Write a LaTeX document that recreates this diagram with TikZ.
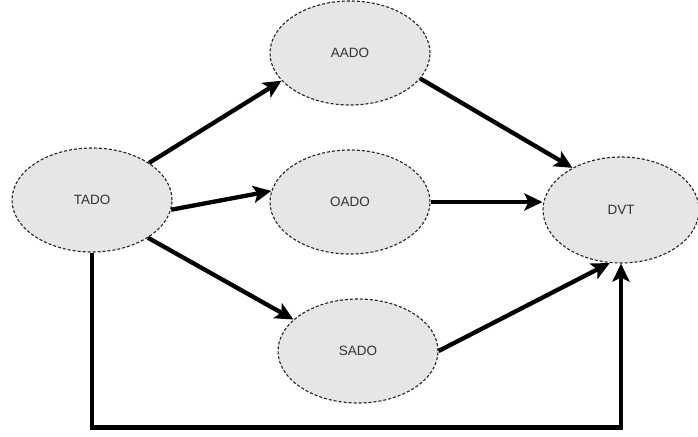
\documentclass[tikz,border=0pt]{standalone}
\usepackage{fontspec}
\setmainfont{Liberation Sans}
\usetikzlibrary{shapes.geometric,arrows.meta}
\definecolor{nodefill}{HTML}{E6E6E6}
\definecolor{nodeline}{HTML}{222222}
\definecolor{nodetext}{HTML}{333333}
\tikzset{
  state/.style={ellipse, draw=nodeline, fill=nodefill, line width=1.1pt,
    dash pattern=on 3pt off 2pt, minimum width=160pt, minimum height=104pt,
    inner sep=0pt, text=nodetext, font=\fontsize{13.5}{16}\selectfont},
  link/.style={line width=4.3pt, draw=black,
    -{Stealth[length=18pt,width=17pt,inset=4pt]}}
}
\begin{document}
\begin{tikzpicture}[x=1pt,y=-1pt]
  \useasboundingbox (0,0) rectangle (698,436);
  % the five states
  \node[state] (tado) at (92,200) {TADO};
  \node[state] (aado) at (350,53) {AADO};
  \node[state] (oado) at (350,202) {OADO};
  \node[state] (sado) at (358,351) {SADO};
  \node[state, minimum width=156pt, minimum height=106pt] (dvt) at (621,210) {DVT};
  % arrows between states
  \draw[link] (tado.33) -- (aado.202);
  \draw[link] (tado.353) -- (oado.172);
  \draw[link] (tado.326) -- (sado.154);
  \draw[link] (aado.340) -- (dvt.139);
  \draw[link] (oado.east) -- (oado.east -| dvt.west);
  \draw[link] (sado.east) -- (dvt.258);
  \draw[link] (tado.south) -- ++(0,175) -| (dvt.south);
\end{tikzpicture}
\end{document}
